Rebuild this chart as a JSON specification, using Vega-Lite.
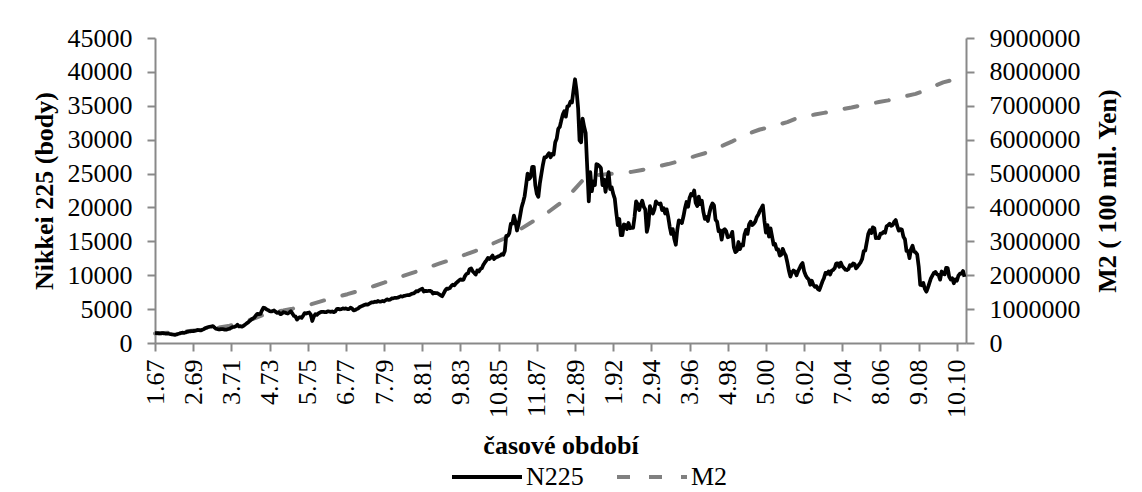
{
"$schema":"https://vega.github.io/schema/vega-lite/v6.json",
"width":811,"height":305,
"autosize":{"type":"none"},
"padding":{"left":155,"top":38,"right":176,"bottom":149},
"background":"white",
"datasets":{
"n225":[
{"d":"1967-01","v":1480},{"d":"1967-02","v":1460},{"d":"1967-03","v":1450},{"d":"1967-04","v":1430},{"d":"1967-05","v":1420},{"d":"1967-06","v":1460},{"d":"1967-07","v":1420},{"d":"1967-08","v":1380},{"d":"1967-09","v":1400},{"d":"1967-10","v":1370},{"d":"1967-11","v":1320},{"d":"1967-12","v":1283},
{"d":"1968-01","v":1230},{"d":"1968-02","v":1200},{"d":"1968-03","v":1250},{"d":"1968-04","v":1330},{"d":"1968-05","v":1400},{"d":"1968-06","v":1480},{"d":"1968-07","v":1530},{"d":"1968-08","v":1480},{"d":"1968-09","v":1560},{"d":"1968-10","v":1650},{"d":"1968-11","v":1690},{"d":"1968-12","v":1714},
{"d":"1969-01","v":1770},{"d":"1969-02","v":1750},{"d":"1969-03","v":1800},{"d":"1969-04","v":1850},{"d":"1969-05","v":1920},{"d":"1969-06","v":1880},{"d":"1969-07","v":1850},{"d":"1969-08","v":1960},{"d":"1969-09","v":2050},{"d":"1969-10","v":2200},{"d":"1969-11","v":2260},{"d":"1969-12","v":2358},
{"d":"1970-01","v":2400},{"d":"1970-02","v":2430},{"d":"1970-03","v":2500},{"d":"1970-04","v":2280},{"d":"1970-05","v":2100},{"d":"1970-06","v":2050},{"d":"1970-07","v":1990},{"d":"1970-08","v":2040},{"d":"1970-09","v":2060},{"d":"1970-10","v":2020},{"d":"1970-11","v":1960},{"d":"1970-12","v":1987},
{"d":"1971-01","v":2060},{"d":"1971-02","v":2120},{"d":"1971-03","v":2250},{"d":"1971-04","v":2350},{"d":"1971-05","v":2380},{"d":"1971-06","v":2460},{"d":"1971-07","v":2700},{"d":"1971-08","v":2450},{"d":"1971-09","v":2480},{"d":"1971-10","v":2400},{"d":"1971-11","v":2540},{"d":"1971-12","v":2714},
{"d":"1972-01","v":2900},{"d":"1972-02","v":3050},{"d":"1972-03","v":3250},{"d":"1972-04","v":3450},{"d":"1972-05","v":3600},{"d":"1972-06","v":3750},{"d":"1972-07","v":4050},{"d":"1972-08","v":4300},{"d":"1972-09","v":4250},{"d":"1972-10","v":4300},{"d":"1972-11","v":4800},{"d":"1972-12","v":5207},
{"d":"1973-01","v":5150},{"d":"1973-02","v":4950},{"d":"1973-03","v":4880},{"d":"1973-04","v":4700},{"d":"1973-05","v":4650},{"d":"1973-06","v":4700},{"d":"1973-07","v":4800},{"d":"1973-08","v":4600},{"d":"1973-09","v":4450},{"d":"1973-10","v":4550},{"d":"1973-11","v":4250},{"d":"1973-12","v":4307},
{"d":"1974-01","v":4550},{"d":"1974-02","v":4500},{"d":"1974-03","v":4400},{"d":"1974-04","v":4350},{"d":"1974-05","v":4500},{"d":"1974-06","v":4700},{"d":"1974-07","v":4350},{"d":"1974-08","v":4000},{"d":"1974-09","v":3900},{"d":"1974-10","v":3450},{"d":"1974-11","v":3700},{"d":"1974-12","v":3817},
{"d":"1975-01","v":3700},{"d":"1975-02","v":4050},{"d":"1975-03","v":4400},{"d":"1975-04","v":4350},{"d":"1975-05","v":4450},{"d":"1975-06","v":4500},{"d":"1975-07","v":4200},{"d":"1975-08","v":3250},{"d":"1975-09","v":3900},{"d":"1975-10","v":4250},{"d":"1975-11","v":4150},{"d":"1975-12","v":4358},
{"d":"1976-01","v":4500},{"d":"1976-02","v":4600},{"d":"1976-03","v":4600},{"d":"1976-04","v":4550},{"d":"1976-05","v":4550},{"d":"1976-06","v":4650},{"d":"1976-07","v":4650},{"d":"1976-08","v":4600},{"d":"1976-09","v":4650},{"d":"1976-10","v":4550},{"d":"1976-11","v":4650},{"d":"1976-12","v":4990},
{"d":"1977-01","v":5050},{"d":"1977-02","v":4950},{"d":"1977-03","v":5000},{"d":"1977-04","v":5100},{"d":"1977-05","v":5050},{"d":"1977-06","v":5100},{"d":"1977-07","v":5000},{"d":"1977-08","v":5000},{"d":"1977-09","v":5200},{"d":"1977-10","v":5100},{"d":"1977-11","v":4800},{"d":"1977-12","v":4866},
{"d":"1978-01","v":5000},{"d":"1978-02","v":5100},{"d":"1978-03","v":5300},{"d":"1978-04","v":5400},{"d":"1978-05","v":5500},{"d":"1978-06","v":5600},{"d":"1978-07","v":5700},{"d":"1978-08","v":5650},{"d":"1978-09","v":5750},{"d":"1978-10","v":5900},{"d":"1978-11","v":6000},{"d":"1978-12","v":6001},
{"d":"1979-01","v":6100},{"d":"1979-02","v":6050},{"d":"1979-03","v":6200},{"d":"1979-04","v":6100},{"d":"1979-05","v":6100},{"d":"1979-06","v":6200},{"d":"1979-07","v":6150},{"d":"1979-08","v":6300},{"d":"1979-09","v":6450},{"d":"1979-10","v":6350},{"d":"1979-11","v":6400},{"d":"1979-12","v":6569},
{"d":"1980-01","v":6600},{"d":"1980-02","v":6650},{"d":"1980-03","v":6650},{"d":"1980-04","v":6700},{"d":"1980-05","v":6800},{"d":"1980-06","v":6900},{"d":"1980-07","v":6850},{"d":"1980-08","v":6950},{"d":"1980-09","v":7000},{"d":"1980-10","v":7050},{"d":"1980-11","v":7050},{"d":"1980-12","v":7116},
{"d":"1981-01","v":7250},{"d":"1981-02","v":7300},{"d":"1981-03","v":7400},{"d":"1981-04","v":7650},{"d":"1981-05","v":7600},{"d":"1981-06","v":7800},{"d":"1981-07","v":7900},{"d":"1981-08","v":8000},{"d":"1981-09","v":7600},{"d":"1981-10","v":7700},{"d":"1981-11","v":7650},{"d":"1981-12","v":7682},
{"d":"1982-01","v":7700},{"d":"1982-02","v":7600},{"d":"1982-03","v":7300},{"d":"1982-04","v":7400},{"d":"1982-05","v":7350},{"d":"1982-06","v":7350},{"d":"1982-07","v":7200},{"d":"1982-08","v":7050},{"d":"1982-09","v":6900},{"d":"1982-10","v":7300},{"d":"1982-11","v":7750},{"d":"1982-12","v":8017},
{"d":"1983-01","v":8000},{"d":"1983-02","v":8100},{"d":"1983-03","v":8400},{"d":"1983-04","v":8600},{"d":"1983-05","v":8500},{"d":"1983-06","v":8800},{"d":"1983-07","v":9000},{"d":"1983-08","v":9200},{"d":"1983-09","v":9400},{"d":"1983-10","v":9300},{"d":"1983-11","v":9350},{"d":"1983-12","v":9894},
{"d":"1984-01","v":10200},{"d":"1984-02","v":10300},{"d":"1984-03","v":10900},{"d":"1984-04","v":11000},{"d":"1984-05","v":10600},{"d":"1984-06","v":10350},{"d":"1984-07","v":10100},{"d":"1984-08","v":10700},{"d":"1984-09","v":10550},{"d":"1984-10","v":10900},{"d":"1984-11","v":11050},{"d":"1984-12","v":11543},
{"d":"1985-01","v":11900},{"d":"1985-02","v":12200},{"d":"1985-03","v":12550},{"d":"1985-04","v":12400},{"d":"1985-05","v":12600},{"d":"1985-06","v":12900},{"d":"1985-07","v":12400},{"d":"1985-08","v":12600},{"d":"1985-09","v":12700},{"d":"1985-10","v":12800},{"d":"1985-11","v":12900},{"d":"1985-12","v":13113},
{"d":"1986-01","v":13000},{"d":"1986-02","v":13600},{"d":"1986-03","v":15800},{"d":"1986-04","v":15800},{"d":"1986-05","v":16200},{"d":"1986-06","v":17600},{"d":"1986-07","v":17600},{"d":"1986-08","v":18800},{"d":"1986-09","v":17900},{"d":"1986-10","v":16600},{"d":"1986-11","v":17500},{"d":"1986-12","v":18701},
{"d":"1987-01","v":20000},{"d":"1987-02","v":20800},{"d":"1987-03","v":21600},{"d":"1987-04","v":23300},{"d":"1987-05","v":25000},{"d":"1987-06","v":24200},{"d":"1987-07","v":24500},{"d":"1987-08","v":26000},{"d":"1987-09","v":26000},{"d":"1987-10","v":23300},{"d":"1987-11","v":22000},{"d":"1987-12","v":21564},
{"d":"1988-01","v":23600},{"d":"1988-02","v":25000},{"d":"1988-03","v":26300},{"d":"1988-04","v":27400},{"d":"1988-05","v":27400},{"d":"1988-06","v":27700},{"d":"1988-07","v":28000},{"d":"1988-08","v":27400},{"d":"1988-09","v":27900},{"d":"1988-10","v":27800},{"d":"1988-11","v":29600},{"d":"1988-12","v":30159},
{"d":"1989-01","v":31600},{"d":"1989-02","v":31900},{"d":"1989-03","v":32800},{"d":"1989-04","v":33700},{"d":"1989-05","v":34200},{"d":"1989-06","v":33400},{"d":"1989-07","v":34900},{"d":"1989-08","v":35000},{"d":"1989-09","v":35600},{"d":"1989-10","v":35500},{"d":"1989-11","v":37300},{"d":"1989-12","v":38916},
{"d":"1990-01","v":37200},{"d":"1990-02","v":34600},{"d":"1990-03","v":29900},{"d":"1990-04","v":29600},{"d":"1990-05","v":33100},{"d":"1990-06","v":31900},{"d":"1990-07","v":31000},{"d":"1990-08","v":25900},{"d":"1990-09","v":20900},{"d":"1990-10","v":25200},{"d":"1990-11","v":22400},{"d":"1990-12","v":23849},
{"d":"1991-01","v":23300},{"d":"1991-02","v":26400},{"d":"1991-03","v":26300},{"d":"1991-04","v":26100},{"d":"1991-05","v":25800},{"d":"1991-06","v":23300},{"d":"1991-07","v":24100},{"d":"1991-08","v":22300},{"d":"1991-09","v":23900},{"d":"1991-10","v":25200},{"d":"1991-11","v":22700},{"d":"1991-12","v":22984},
{"d":"1992-01","v":22000},{"d":"1992-02","v":21300},{"d":"1992-03","v":19300},{"d":"1992-04","v":17400},{"d":"1992-05","v":18300},{"d":"1992-06","v":15900},{"d":"1992-07","v":15900},{"d":"1992-08","v":17500},{"d":"1992-09","v":17400},{"d":"1992-10","v":16800},{"d":"1992-11","v":17700},{"d":"1992-12","v":16925},
{"d":"1993-01","v":17000},{"d":"1993-02","v":17000},{"d":"1993-03","v":18600},{"d":"1993-04","v":20900},{"d":"1993-05","v":20500},{"d":"1993-06","v":19600},{"d":"1993-07","v":20400},{"d":"1993-08","v":21000},{"d":"1993-09","v":20100},{"d":"1993-10","v":19700},{"d":"1993-11","v":16400},{"d":"1993-12","v":17417},
{"d":"1994-01","v":20200},{"d":"1994-02","v":19500},{"d":"1994-03","v":19100},{"d":"1994-04","v":19700},{"d":"1994-05","v":20900},{"d":"1994-06","v":20600},{"d":"1994-07","v":20500},{"d":"1994-08","v":20600},{"d":"1994-09","v":19600},{"d":"1994-10","v":19900},{"d":"1994-11","v":19100},{"d":"1994-12","v":19723},
{"d":"1995-01","v":18600},{"d":"1995-02","v":17100},{"d":"1995-03","v":16100},{"d":"1995-04","v":16800},{"d":"1995-05","v":15400},{"d":"1995-06","v":14500},{"d":"1995-07","v":16700},{"d":"1995-08","v":18100},{"d":"1995-09","v":17900},{"d":"1995-10","v":17700},{"d":"1995-11","v":18700},{"d":"1995-12","v":19868},
{"d":"1996-01","v":20800},{"d":"1996-02","v":20100},{"d":"1996-03","v":21400},{"d":"1996-04","v":22000},{"d":"1996-05","v":21800},{"d":"1996-06","v":22500},{"d":"1996-07","v":20700},{"d":"1996-08","v":20200},{"d":"1996-09","v":21600},{"d":"1996-10","v":20500},{"d":"1996-11","v":21000},{"d":"1996-12","v":19361},
{"d":"1997-01","v":18300},{"d":"1997-02","v":18600},{"d":"1997-03","v":18000},{"d":"1997-04","v":19200},{"d":"1997-05","v":20100},{"d":"1997-06","v":20600},{"d":"1997-07","v":20300},{"d":"1997-08","v":18200},{"d":"1997-09","v":17900},{"d":"1997-10","v":16500},{"d":"1997-11","v":16600},{"d":"1997-12","v":15259},
{"d":"1998-01","v":16600},{"d":"1998-02","v":16800},{"d":"1998-03","v":16500},{"d":"1998-04","v":15600},{"d":"1998-05","v":15700},{"d":"1998-06","v":15800},{"d":"1998-07","v":16400},{"d":"1998-08","v":14100},{"d":"1998-09","v":13400},{"d":"1998-10","v":13600},{"d":"1998-11","v":14900},{"d":"1998-12","v":13842},
{"d":"1999-01","v":14500},{"d":"1999-02","v":14400},{"d":"1999-03","v":16000},{"d":"1999-04","v":16700},{"d":"1999-05","v":16100},{"d":"1999-06","v":17500},{"d":"1999-07","v":17900},{"d":"1999-08","v":17400},{"d":"1999-09","v":17600},{"d":"1999-10","v":17900},{"d":"1999-11","v":18600},{"d":"1999-12","v":18934},
{"d":"2000-01","v":19500},{"d":"2000-02","v":19900},{"d":"2000-03","v":20300},{"d":"2000-04","v":18000},{"d":"2000-05","v":16300},{"d":"2000-06","v":17400},{"d":"2000-07","v":15700},{"d":"2000-08","v":16900},{"d":"2000-09","v":15700},{"d":"2000-10","v":14500},{"d":"2000-11","v":14600},{"d":"2000-12","v":13785},
{"d":"2001-01","v":13800},{"d":"2001-02","v":12900},{"d":"2001-03","v":13000},{"d":"2001-04","v":13900},{"d":"2001-05","v":13300},{"d":"2001-06","v":12900},{"d":"2001-07","v":11900},{"d":"2001-08","v":10700},{"d":"2001-09","v":9800},{"d":"2001-10","v":10400},{"d":"2001-11","v":10700},{"d":"2001-12","v":10543},
{"d":"2002-01","v":9990},{"d":"2002-02","v":10600},{"d":"2002-03","v":11000},{"d":"2002-04","v":11500},{"d":"2002-05","v":11800},{"d":"2002-06","v":10600},{"d":"2002-07","v":10000},{"d":"2002-08","v":9600},{"d":"2002-09","v":9400},{"d":"2002-10","v":8600},{"d":"2002-11","v":9200},{"d":"2002-12","v":8579},
{"d":"2003-01","v":8300},{"d":"2003-02","v":8400},{"d":"2003-03","v":7970},{"d":"2003-04","v":7830},{"d":"2003-05","v":8420},{"d":"2003-06","v":9080},{"d":"2003-07","v":9560},{"d":"2003-08","v":10340},{"d":"2003-09","v":10220},{"d":"2003-10","v":10560},{"d":"2003-11","v":10100},{"d":"2003-12","v":10677},
{"d":"2004-01","v":10780},{"d":"2004-02","v":11040},{"d":"2004-03","v":11720},{"d":"2004-04","v":11760},{"d":"2004-05","v":11240},{"d":"2004-06","v":11860},{"d":"2004-07","v":11330},{"d":"2004-08","v":11080},{"d":"2004-09","v":10820},{"d":"2004-10","v":10770},{"d":"2004-11","v":10900},{"d":"2004-12","v":11489},
{"d":"2005-01","v":11390},{"d":"2005-02","v":11740},{"d":"2005-03","v":11670},{"d":"2005-04","v":11010},{"d":"2005-05","v":11280},{"d":"2005-06","v":11580},{"d":"2005-07","v":11900},{"d":"2005-08","v":12410},{"d":"2005-09","v":13570},{"d":"2005-10","v":13610},{"d":"2005-11","v":14870},{"d":"2005-12","v":16111},
{"d":"2006-01","v":16650},{"d":"2006-02","v":16210},{"d":"2006-03","v":17060},{"d":"2006-04","v":16910},{"d":"2006-05","v":15470},{"d":"2006-06","v":15510},{"d":"2006-07","v":15460},{"d":"2006-08","v":16140},{"d":"2006-09","v":16130},{"d":"2006-10","v":16400},{"d":"2006-11","v":16270},{"d":"2006-12","v":17226},
{"d":"2007-01","v":17380},{"d":"2007-02","v":17600},{"d":"2007-03","v":17290},{"d":"2007-04","v":17400},{"d":"2007-05","v":17880},{"d":"2007-06","v":18140},{"d":"2007-07","v":17250},{"d":"2007-08","v":16570},{"d":"2007-09","v":16790},{"d":"2007-10","v":16740},{"d":"2007-11","v":15680},{"d":"2007-12","v":15308},
{"d":"2008-01","v":13590},{"d":"2008-02","v":13600},{"d":"2008-03","v":12530},{"d":"2008-04","v":13850},{"d":"2008-05","v":14340},{"d":"2008-06","v":13480},{"d":"2008-07","v":13380},{"d":"2008-08","v":13070},{"d":"2008-09","v":11260},{"d":"2008-10","v":8580},{"d":"2008-11","v":8510},{"d":"2008-12","v":8860},
{"d":"2009-01","v":7990},{"d":"2009-02","v":7570},{"d":"2009-03","v":8110},{"d":"2009-04","v":8830},{"d":"2009-05","v":9520},{"d":"2009-06","v":9960},{"d":"2009-07","v":10360},{"d":"2009-08","v":10490},{"d":"2009-09","v":10130},{"d":"2009-10","v":10030},{"d":"2009-11","v":9350},{"d":"2009-12","v":10546},
{"d":"2010-01","v":10200},{"d":"2010-02","v":10130},{"d":"2010-03","v":11090},{"d":"2010-04","v":11060},{"d":"2010-05","v":9770},{"d":"2010-06","v":9380},{"d":"2010-07","v":9540},{"d":"2010-08","v":8820},{"d":"2010-09","v":9370},{"d":"2010-10","v":9200},{"d":"2010-11","v":9940},{"d":"2010-12","v":10229},
{"d":"2011-01","v":10240},{"d":"2011-02","v":10620},{"d":"2011-03","v":9760}
],
"m2":[
{"d":"1967-01","v":280000},{"d":"1967-07","v":295000},{"d":"1968-01","v":315000},{"d":"1968-07","v":335000},{"d":"1969-01","v":360000},{"d":"1969-07","v":390000},
{"d":"1970-01","v":420000},{"d":"1970-07","v":455000},{"d":"1971-01","v":500000},{"d":"1971-07","v":575000},{"d":"1972-01","v":650000},{"d":"1972-07","v":740000},
{"d":"1973-01","v":850000},{"d":"1973-07","v":920000},{"d":"1974-01","v":960000},{"d":"1974-07","v":1010000},{"d":"1975-01","v":1070000},{"d":"1975-07","v":1140000},
{"d":"1976-01","v":1220000},{"d":"1976-07","v":1300000},{"d":"1977-01","v":1370000},{"d":"1977-07","v":1440000},{"d":"1978-01","v":1520000},{"d":"1978-07","v":1600000},
{"d":"1979-01","v":1690000},{"d":"1979-07","v":1780000},{"d":"1980-01","v":1880000},{"d":"1980-07","v":1970000},{"d":"1981-01","v":2060000},{"d":"1981-07","v":2150000},
{"d":"1982-01","v":2250000},{"d":"1982-07","v":2340000},{"d":"1983-01","v":2430000},{"d":"1983-07","v":2530000},{"d":"1984-01","v":2620000},{"d":"1984-07","v":2720000},
{"d":"1985-01","v":2820000},{"d":"1985-07","v":2950000},{"d":"1986-01","v":3070000},{"d":"1986-07","v":3200000},{"d":"1987-01","v":3380000},{"d":"1987-07","v":3550000},
{"d":"1988-01","v":3700000},{"d":"1988-07","v":3880000},{"d":"1989-01","v":4080000},{"d":"1989-07","v":4300000},{"d":"1990-01","v":4600000},{"d":"1990-07","v":4900000},
{"d":"1991-01","v":4950000},{"d":"1991-07","v":4970000},{"d":"1992-01","v":5000000},{"d":"1992-07","v":5010000},{"d":"1993-01","v":5050000},{"d":"1993-07","v":5100000},
{"d":"1994-01","v":5150000},{"d":"1994-07","v":5220000},{"d":"1995-01","v":5280000},{"d":"1995-07","v":5350000},{"d":"1996-01","v":5440000},{"d":"1996-07","v":5520000},
{"d":"1997-01","v":5600000},{"d":"1997-07","v":5720000},{"d":"1998-01","v":5830000},{"d":"1998-07","v":5950000},{"d":"1999-01","v":6080000},{"d":"1999-07","v":6200000},
{"d":"2000-01","v":6300000},{"d":"2000-07","v":6360000},{"d":"2001-01","v":6440000},{"d":"2001-07","v":6520000},{"d":"2002-01","v":6630000},{"d":"2002-07","v":6690000},
{"d":"2003-01","v":6740000},{"d":"2003-07","v":6790000},{"d":"2004-01","v":6840000},{"d":"2004-07","v":6900000},{"d":"2005-01","v":6950000},{"d":"2005-07","v":7010000},
{"d":"2006-01","v":7060000},{"d":"2006-07","v":7110000},{"d":"2007-01","v":7160000},{"d":"2007-07","v":7230000},{"d":"2008-01","v":7290000},{"d":"2008-07","v":7350000},
{"d":"2009-01","v":7450000},{"d":"2009-07","v":7580000},{"d":"2010-01","v":7690000},{"d":"2010-07","v":7760000},{"d":"2011-01","v":7830000},{"d":"2011-03","v":7860000}
]
},
"config":{
"view":{"stroke":null},
"font":"Liberation Serif",
"axis":{"labelFont":"Liberation Serif","titleFont":"Liberation Serif","labelFontSize":26,"titleFontSize":26,"labelColor":"#000000","titleColor":"#000000","titleFontWeight":"bold","domainColor":"#898989","tickColor":"#898989","domainWidth":2,"tickWidth":2,"tickSize":8,"grid":false},
"legend":{"orient":"none","legendX":295,"legendY":402,"direction":"horizontal","title":null,"symbolType":"stroke","symbolSize":4900,"symbolStrokeWidth":4,"labelFont":"Liberation Serif","labelFontSize":26,"labelColor":"#000000","labelOffset":2,"columnPadding":25}
},
"encoding":{
"x":{"field":"d","type":"temporal",
"scale":{"type":"utc","nice":false,"domain":[{"year":1967,"month":1,"date":1,"utc":true},{"year":2011,"month":4,"date":1,"utc":true}]},
"axis":{"title":"časové období","labelExpr":"utcFormat(datum.value, '%-m.%y')","labelAngle":-90,"labelPadding":8,"labelOverlap":false,"labelFlush":false,"titleY":110,"titleBaseline":"alphabetic",
"values":[{"year":1967,"month":1,"utc":true},{"year":1969,"month":2,"utc":true},{"year":1971,"month":3,"utc":true},{"year":1973,"month":4,"utc":true},{"year":1975,"month":5,"utc":true},{"year":1977,"month":6,"utc":true},{"year":1979,"month":7,"utc":true},{"year":1981,"month":8,"utc":true},{"year":1983,"month":9,"utc":true},{"year":1985,"month":10,"utc":true},{"year":1987,"month":11,"utc":true},{"year":1989,"month":12,"utc":true},{"year":1992,"month":1,"utc":true},{"year":1994,"month":2,"utc":true},{"year":1996,"month":3,"utc":true},{"year":1998,"month":4,"utc":true},{"year":2000,"month":5,"utc":true},{"year":2002,"month":6,"utc":true},{"year":2004,"month":7,"utc":true},{"year":2006,"month":8,"utc":true},{"year":2008,"month":9,"utc":true},{"year":2010,"month":10,"utc":true}]}}
},
"layer":[
{"data":{"name":"m2"},
"mark":{"type":"line","strokeWidth":4,"strokeCap":"round","strokeJoin":"round"},
"encoding":{
"y":{"field":"v","type":"quantitative","scale":{"domain":[0,9000000],"nice":false},
"axis":{"orient":"right","title":"M2 ( 100 mil. Yen)","format":"d","labelPadding":15,"titleAngle":270,"titleX":141,"titleBaseline":"middle","values":[0,1000000,2000000,3000000,4000000,5000000,6000000,7000000,8000000,9000000]}},
"color":{"datum":"M2","type":"nominal","scale":{"domain":["N225","M2"],"range":["#000000","#808080"]}},
"strokeDash":{"datum":"M2","type":"nominal","scale":{"domain":["N225","M2"],"range":[[1,0],[13,19]]}}
}},
{"data":{"name":"n225"},
"mark":{"type":"line","strokeWidth":3.75,"strokeJoin":"round"},
"encoding":{
"y":{"field":"v","type":"quantitative","scale":{"domain":[0,45000],"nice":false},
"axis":{"orient":"left","title":"Nikkei 225 (body)","format":"d","labelPadding":15,"titleAngle":270,"titleX":-111,"titleBaseline":"middle","values":[0,5000,10000,15000,20000,25000,30000,35000,40000,45000]}},
"color":{"datum":"N225","type":"nominal","scale":{"domain":["N225","M2"],"range":["#000000","#808080"]}},
"strokeDash":{"datum":"N225","type":"nominal","scale":{"domain":["N225","M2"],"range":[[1,0],[13,19]]}}
}}
],
"resolve":{"scale":{"y":"independent"}}
}
